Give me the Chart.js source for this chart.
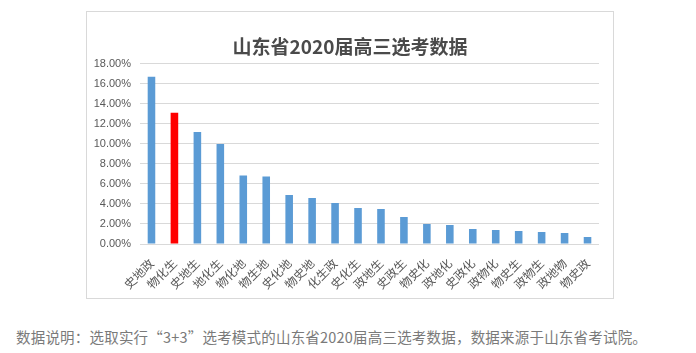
<!DOCTYPE html>
<html lang="zh">
<head>
<meta charset="utf-8">
<title>山东省2020届高三选考数据</title>
<script src="https://cdn.jsdelivr.net/npm/chart.js@4/dist/chart.umd.min.js"></script>
<style>
  html, body { margin: 0; padding: 0; background: #fff; }
  body { width: 696px; height: 353px; position: relative; overflow: hidden; }
  #box {
    position: absolute; left: 86px; top: 11px;
    width: 528px; height: 288px;
    box-sizing: border-box;
    border: 1px solid #d9d9d9;
    background: #fff;
  }
  #chart { display: block; }
  #note {
    position: absolute; left: 16px; top: 326px;
    font: 14.5px "Noto Sans CJK SC", "Noto Sans", sans-serif;
    color: #7a7a7a;
    white-space: nowrap;
    letter-spacing: 0.2px;
  }
</style>
</head>
<body>
<div id="box"><canvas id="chart" width="526" height="286"></canvas></div>
<div id="note">数据说明：选取实行“3+3”选考模式的山东省2020届高三选考数据，数据来源于山东省考试院。</div>

<script>
  /* ------------------------------------------------------------------
   * Data
   * ------------------------------------------------------------------ */
  const combos = [
    "史地政", "物化生", "史地生", "地化生", "物化地",
    "物生地", "史化地", "物史地", "化生政", "史化生",
    "政地生", "史政生", "物史化", "政地化", "史政化",
    "政物化", "物史生", "政物生", "政地物", "物史政"
  ];
  const shares = [
    16.70, 13.10, 11.20, 10.00, 6.85,
    6.75,  4.90,  4.60,  4.10,  3.60,
    3.50,  2.70,  2.00,  1.90,  1.50,
    1.40,  1.30,  1.20,  1.10,  0.70
  ];
  const highlighted = ["物化生"];
  const yMax  = 18;
  const yStep = 2;

  const BLUE = "#5b9bd5";
  const RED  = "#ff0000";
  const GRID = "#d9d9d9";
  const TEXT = "#595959";

  const barColors = combos.map(function (c) {
    return highlighted.indexOf(c) >= 0 ? RED : BLUE;
  });

  new Chart(document.getElementById("chart").getContext("2d"), {
    type: "bar",
    data: {
      labels: combos,
      datasets: [{
        data:               shares,
        backgroundColor:    barColors,
        borderWidth:        0,
        categoryPercentage: 1,
        barPercentage:      0.33
      }]
    },
    options: {
      responsive: false,
      animation:  false,
      layout: { padding: 0 },
      plugins: {
        legend:  { display: false },
        tooltip: { enabled: false },
        title: {
          display: true,
          text:    "山东省2020届高三选考数据",
          color:   "#4a4a4a",
          font:    { family: "'Noto Sans CJK SC', sans-serif", size: 19, weight: "bold", lineHeight: 1.2 },
          padding: { top: 23, bottom: 6 }
        }
      },
      scales: {
        x: {
          grid:   { display: false },
          border: { display: false },
          ticks: {
            color:       TEXT,
            font:        { family: "'Noto Sans CJK SC', sans-serif", size: 12 },
            minRotation: 45,
            maxRotation: 45,
            autoSkip:    false,
            padding:     4
          },
          afterFit: function (scale) { scale.height = 54; }
        },
        y: {
          min: 0,
          max: yMax,
          grid:   { color: GRID, lineWidth: 1, drawTicks: false },
          border: { display: false },
          ticks: {
            stepSize: yStep,
            color:    TEXT,
            font:     { family: "'Liberation Sans', Arial, sans-serif", size: 11 },
            padding:  9,
            callback: function (v) { return v.toFixed(2) + "%"; }
          },
          afterFit: function (scale) { scale.width = 53; }
        },
        // empty right-hand gutter so the plot stops where the reference does
        yRight: {
          position: "right",
          grid:   { display: false },
          border: { display: false },
          ticks:  { display: false },
          afterFit: function (scale) { scale.width = 14; }
        }
      }
    }
  });
</script>
</body>
</html>
